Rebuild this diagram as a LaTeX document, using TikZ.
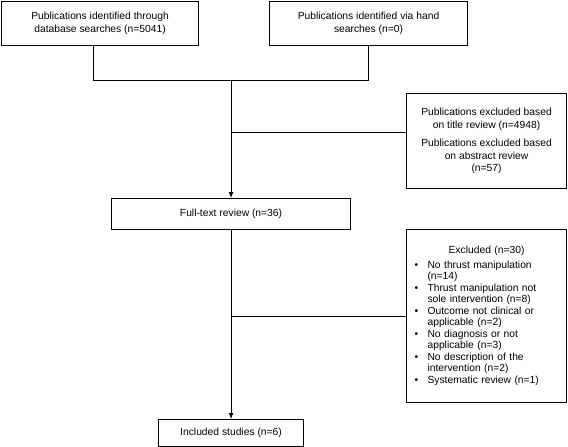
\documentclass[tikz,border=0pt]{standalone}
\usepackage{fontspec}
\setmainfont{Liberation Sans}
\usetikzlibrary{arrows.meta}
\begin{document}
\begin{tikzpicture}[x=1pt,y=-1pt,
  box/.style={draw, line width=1.1pt, inner sep=0pt, anchor=north west, align=center,
    font=\fontsize{10.3}{12.6}\selectfont},
  conn/.style={line width=0.9pt},
  arr/.style={conn,-{Latex[length=6pt,width=5pt]}}]
\useasboundingbox (0,0) rectangle (568,447);

\node[box, minimum width=197pt, minimum height=44pt] (db) at (1,1)
  {Publications identified through\\database searches (n=5041)};
\node[box, minimum width=198pt, minimum height=44pt] (hand) at (269,1)
  {Publications identified via hand\\searches (n=0)};
\node[box, minimum width=160pt, minimum height=95pt] (rb) at (406,93)
  {Publications excluded based\\on title review (n=4948)\\[6pt]Publications excluded based\\on abstract review\\(n=57)};
\node[box, minimum width=239pt, minimum height=31pt] (ft) at (111,198)
  {Full-text review (n=36)};
\node[box, text width=148pt, inner xsep=6pt, minimum height=173pt, align=left,
  font=\fontsize{10.3}{11.5}\selectfont] (exc) at (406,229)
  {\makebox[148pt][c]{Excluded (n=30)}\\[3pt]
   \makebox[15pt][l]{\hspace{2pt}\textbullet}No thrust manipulation\\
   \hspace*{15pt}(n=14)\\
   \makebox[15pt][l]{\hspace{2pt}\textbullet}Thrust manipulation not\\
   \hspace*{15pt}sole intervention (n=8)\\
   \makebox[15pt][l]{\hspace{2pt}\textbullet}Outcome not clinical or\\
   \hspace*{15pt}applicable (n=2)\\
   \makebox[15pt][l]{\hspace{2pt}\textbullet}No diagnosis or not\\
   \hspace*{15pt}applicable (n=3)\\
   \makebox[15pt][l]{\hspace{2pt}\textbullet}No description of the\\
   \hspace*{15pt}intervention (n=2)\\
   \makebox[15pt][l]{\hspace{2pt}\textbullet}Systematic review (n=1)};
\node[box, minimum width=145pt, minimum height=27pt] (inc) at (158,419)
  {Included studies (n=6)};

\coordinate (j) at (ft.north |- 0,80);
\draw[conn] ([xshift=-7pt]db.south) |- (j);
\draw[conn] (hand.south) |- (j);
\draw[arr] (j) -- (ft.north);
\draw[conn] (ft.north |- 0,132) -- (rb.west |- 0,132);
\draw[arr] (ft.south) -- (inc.north);
\draw[conn] (exc.west -| ft.south) -- (exc.west);
\end{tikzpicture}
\end{document}
